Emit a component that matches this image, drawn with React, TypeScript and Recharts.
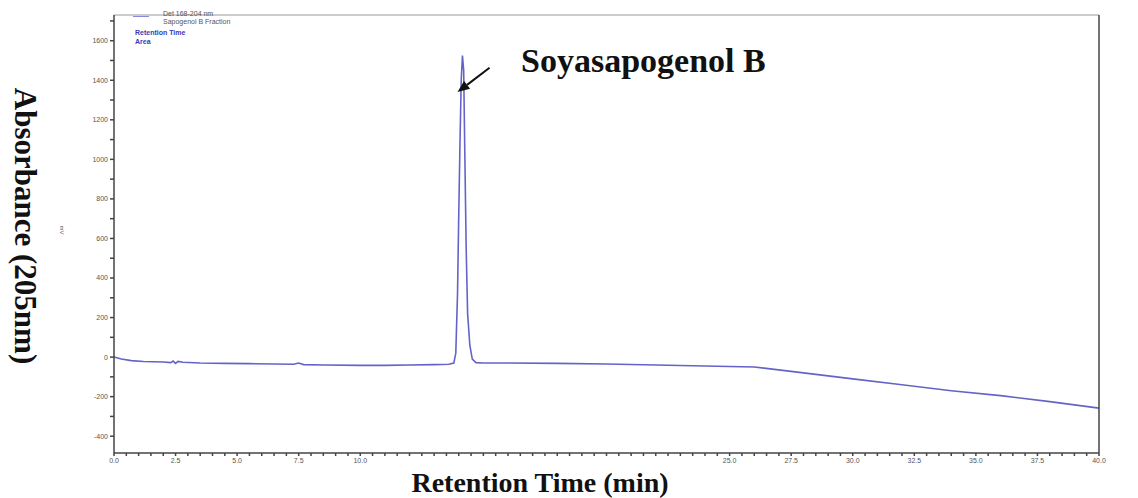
import React from "react";
import {
  LineChart,
  Line,
  XAxis,
  YAxis,
  ReferenceLine,
} from "recharts";

// retention time (min) and absorbance (mV)
const times = [
  0, 0.3, 0.7, 1.2, 2.0, 2.3, 2.4, 2.5, 2.6, 2.8, 3.5, 4.5, 5.5, 6.5, 7.3, 7.5, 7.7, 8.5, 10, 11, 12, 13,
  13.6, 13.8, 13.88, 13.95, 14.0, 14.05, 14.1, 14.15, 14.2, 14.25, 14.3, 14.36, 14.45, 14.55, 14.7, 15, 16,
  18, 20, 22, 24, 26, 28, 30, 32, 34, 36, 38, 40,
];
const absorbance = [
  0, -10, -18, -22, -25, -28, -20, -32, -22, -26, -30, -32, -33, -35, -36, -30, -38, -40, -42, -42, -40, -38,
  -36, -30, 20, 320, 720, 1080, 1400, 1525, 1450, 1000, 560, 220, 60, -10, -28, -30, -30,
  -32, -35, -40, -45, -50, -80, -110, -140, -170, -195, -225, -258,
];

const xTicks = Array.from({ length: 81 }, (_, i) => i * 0.5);
const xLabels = ["0.0", "2.5", "5.0", "7.5", "10.0", "25.0", "27.5", "30.0", "32.5", "35.0", "37.5", "40.0"];
const yTicks = Array.from({ length: 22 }, (_, i) => -400 + i * 100);

const legendLines = ["Det 168-204 nm", "Sapogenol B Fraction"];
const legendBlue = ["Retention Time", "Area"];

const data = times.map((t, i) => ({ t, v: absorbance[i] }));

const xFmt = (v: number) => {
  const s = v.toFixed(1);
  return xLabels.includes(s) ? s : "";
};
const yFmt = (v: number) => (v % 200 === 0 ? String(v) : "");

const tickStyle = { fontSize: 7, fill: "#555", fontFamily: "Arial, sans-serif" };
const serif = "'Liberation Serif', 'Times New Roman', serif";

const Arrow = (props: any) => {
  const { x1, y1, x2, y2 } = props;
  const ang = Math.atan2(y2 - y1, x2 - x1);
  const len = 12;
  const w = 5;
  const bx = x2 - len * Math.cos(ang);
  const by = y2 - len * Math.sin(ang);
  const px = -Math.sin(ang) * w;
  const py = Math.cos(ang) * w;
  return (
    <g>
      <line x1={x1} y1={y1} x2={bx} y2={by} stroke="#111" strokeWidth={2} />
      <polygon points={`${x2},${y2} ${bx + px},${by + py} ${bx - px},${by - py}`} fill="#111" />
    </g>
  );
};

export default function App() {
  return (
    <div style={{ position: "absolute", left: 0, top: 0, width: 1138, height: 498, background: "#fff" }}>
      <LineChart width={1138} height={498} data={data} margin={{ top: 15, right: 0, bottom: 0, left: 0 }}>
        <XAxis
          dataKey="t"
          type="number"
          domain={[0, 40]}
          ticks={xTicks}
          interval={0}
          tickFormatter={xFmt}
          tick={tickStyle}
          tickSize={3}
          height={45}
          stroke="#444"
          strokeWidth={1.5}
        />
        <YAxis
          type="number"
          domain={[-485, 1730]}
          ticks={yTicks}
          interval={0}
          tickFormatter={yFmt}
          tick={tickStyle}
          tickSize={4}
          width={114}
          stroke="#444"
          strokeWidth={1.5}
          allowDataOverflow
        />
        <YAxis
          yAxisId="right"
          orientation="right"
          type="number"
          domain={[-485, 1730]}
          ticks={yTicks}
          interval={0}
          tickFormatter={yFmt}
          tick={tickStyle}
          tickSize={4}
          width={39}
          stroke="#444"
          strokeWidth={1.5}
        />
        <ReferenceLine y={1730} stroke="#999" strokeWidth={1} />
        <Line
          dataKey="v"
          type="linear"
          stroke="#6464c8"
          strokeWidth={1.6}
          dot={false}
          isAnimationActive={false}
        />
        <ReferenceLine
          segment={[
            { x: 15.25, y: 1463 },
            { x: 13.95, y: 1340 },
          ]}
          shape={Arrow}
        />
      </LineChart>

      <div style={{ position: "absolute", left: 133, top: 16, width: 16, borderTop: "1px solid #8888dd" }} />
      {legendLines.map((s, i) => (
        <div
          key={s}
          style={{ position: "absolute", left: 163, top: 10 + i * 8, fontSize: 7, lineHeight: "8px", color: "#555", fontFamily: "Arial, sans-serif" }}
        >
          {s}
        </div>
      ))}
      {legendBlue.map((s, i) => (
        <div
          key={s}
          style={{ position: "absolute", left: 135, top: 29 + i * 9, fontSize: 7, lineHeight: "8px", color: "#3a3ab8", fontWeight: "bold", fontFamily: "Arial, sans-serif" }}
        >
          {s}
        </div>
      ))}

      <div
        style={{
          position: "absolute",
          left: 521,
          top: 61,
          transform: "translateY(-50%)",
          fontSize: 34,
          fontWeight: "bold",
          fontFamily: serif,
          color: "#111",
          whiteSpace: "nowrap",
        }}
      >
        Soyasapogenol B
      </div>

      <div
        style={{
          position: "absolute",
          left: 25,
          top: 226,
          transform: "translate(-50%, -50%) rotate(90deg)",
          fontSize: 31,
          fontWeight: "bold",
          fontFamily: serif,
          color: "#111",
          whiteSpace: "nowrap",
        }}
      >
        Absorbance (205nm)
      </div>
      <div
        style={{
          position: "absolute",
          left: 62,
          top: 230,
          transform: "translate(-50%, -50%) rotate(90deg)",
          fontSize: 6,
          color: "#555",
          fontFamily: "Arial, sans-serif",
        }}
      >
        mV
      </div>
      <div
        style={{
          position: "absolute",
          left: 540,
          top: 483,
          transform: "translate(-50%, -50%)",
          fontSize: 28,
          fontWeight: "bold",
          fontFamily: serif,
          color: "#111",
          whiteSpace: "nowrap",
        }}
      >
        Retention Time (min)
      </div>
    </div>
  );
}
